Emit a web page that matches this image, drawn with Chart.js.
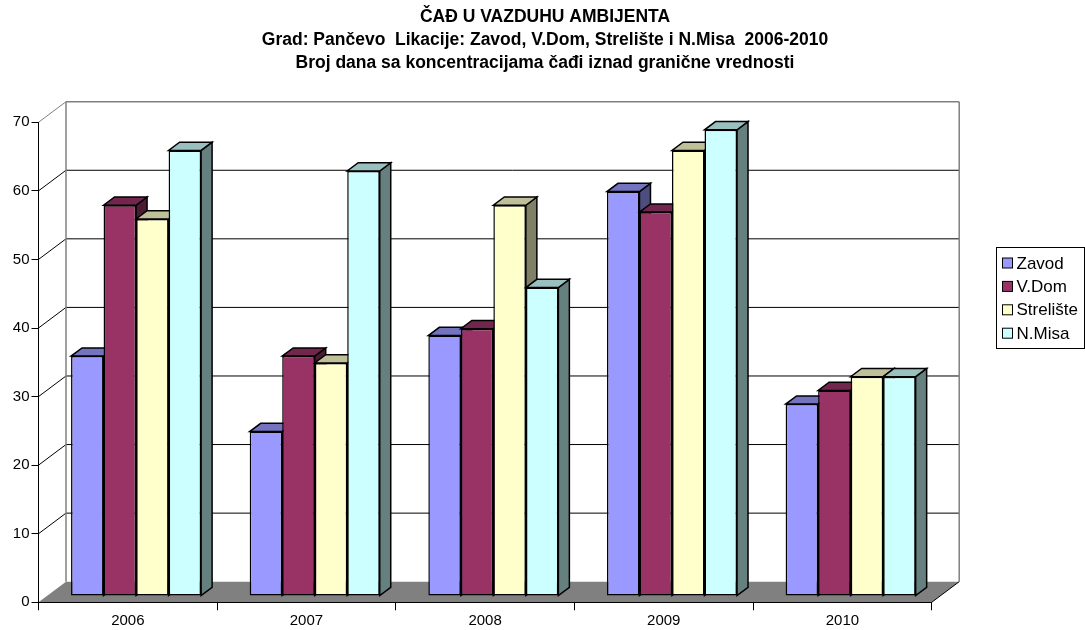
<!DOCTYPE html>
<html>
<head>
<meta charset="utf-8">
<script src="https://cdn.jsdelivr.net/npm/chart.js@4.4.1/dist/chart.umd.min.js"></script>
<style>
  html, body { margin: 0; padding: 0; background: #ffffff; }
  #wrap { width: 1085px; height: 630px; }
</style>
</head>
<body>
<div id="wrap"><canvas id="c" width="1085" height="630"></canvas></div>
<script>
// Chart text and values
const titleLines = [
  'ČAĐ U VAZDUHU AMBIJENTA',
  'Grad: Pančevo  Likacije: Zavod, V.Dom, Strelište i N.Misa  2006-2010',
  'Broj dana sa koncentracijama čađi iznad granične vrednosti'
];
const years = ['2006', '2007', '2008', '2009', '2010'];
const seriesNames = ['Zavod', 'V.Dom', 'Strelište', 'N.Misa'];
const zavod = [35, 24, 38, 59, 28];
const vDom = [57, 35, 39, 56, 30];
const streliste = [55, 34, 57, 65, 32];
const nMisa = [65, 62, 45, 68, 32];
const yTicks = [0, 10, 20, 30, 40, 50, 60, 70];

// Face colours: front, lit top, shaded side
const frontColors = ['#9999FF', '#993366', '#FFFFCC', '#CCFFFF'];
const topColors = ['#7373BF', '#73264D', '#BFBF99', '#99BFBF'];
const sideColors = ['#4D4D80', '#4D1A33', '#808066', '#668080'];

// Oblique projection of the depth axis
const DEPTH_DX = 27.5, DEPTH_DY = -20.6;
const BAR_FRONT = 0.30, BAR_BACK = 0.70;

const FONT = '"Liberation Sans", Arial, Helvetica, sans-serif';

function poly(ctx, pts, fill, stroke, lw) {
  ctx.beginPath();
  ctx.moveTo(pts[0][0], pts[0][1]);
  for (let k = 1; k < pts.length; k++) ctx.lineTo(pts[k][0], pts[k][1]);
  ctx.closePath();
  if (fill) { ctx.fillStyle = fill; ctx.fill(); }
  if (stroke) { ctx.strokeStyle = stroke; ctx.lineWidth = lw || 1; ctx.stroke(); }
}
function line(ctx, x1, y1, x2, y2, color, lw) {
  ctx.beginPath();
  ctx.moveTo(x1, y1);
  ctx.lineTo(x2, y2);
  ctx.strokeStyle = color;
  ctx.lineWidth = lw || 1;
  ctx.stroke();
}

// Walls and floor behind the bars
const roomPlugin = {
  id: 'room',
  beforeDraw(chart) {
    const ctx = chart.ctx;
    const a = chart.chartArea;
    const ys = chart.scales.y;
    ctx.save();
    ctx.fillStyle = '#ffffff';
    ctx.fillRect(0, 0, chart.width, chart.height);

    const bl = a.left + DEPTH_DX, br = a.right + DEPTH_DX;
    const bt = a.top + DEPTH_DY, bb = a.bottom + DEPTH_DY;

    // floor
    poly(ctx, [[a.left, a.bottom], [a.right, a.bottom], [br, bb], [bl, bb]], '#808080');

    // gridlines on the back wall and along the left wall
    ys.ticks.forEach(t => {
      const yf = ys.getPixelForValue(t.value);
      const yb = yf + DEPTH_DY;
      if (t.value > 0 && t.value < 70) {
        line(ctx, bl, yb, br, yb, '#000000', 1);
      }
      if (t.value > 0) {
        line(ctx, a.left, yf, bl, yb, t.value === 70 ? '#808080' : '#000000', 1);
      }
    });

    // wall outline
    line(ctx, bl, bt, br, bt, '#808080', 1.5);
    line(ctx, bl, bt, bl, bb, '#808080', 1.5);
    line(ctx, br, bt, br, bb, '#808080', 1.5);
    line(ctx, a.right, a.bottom, br, bb, '#000000', 1);
    ctx.restore();
  },

  // bars drawn category by category, left to right, so neighbours overlap correctly
  beforeDatasetsDraw(chart) {
    const ctx = chart.ctx;
    const ox = DEPTH_DX * BAR_FRONT, oy = DEPTH_DY * BAR_FRONT;
    const bdx = DEPTH_DX * (BAR_BACK - BAR_FRONT), bdy = DEPTH_DY * (BAR_BACK - BAR_FRONT);
    const metas = chart.data.datasets.map((d, j) => chart.getDatasetMeta(j));
    const n = chart.data.labels.length;
    ctx.save();
    ctx.lineJoin = 'miter';
    for (let i = 0; i < n; i++) {
      metas.forEach((meta, j) => {
        const el = meta.data[i];
        const p = el.getProps(['x', 'y', 'base', 'width'], true);
        const L = p.x - p.width / 2 + ox, R = p.x + p.width / 2 + ox;
        const T = p.y + oy, B = p.base + oy;
        poly(ctx, [[R, T], [R + bdx, T + bdy], [R + bdx, B + bdy], [R, B]], sideColors[j], '#000000', 1.5);
        poly(ctx, [[L, T], [R, T], [R + bdx, T + bdy], [L + bdx, T + bdy]], topColors[j], '#000000', 1.5);
        ctx.save();
        ctx.translate(ox, oy);
        el.draw(ctx);
        ctx.restore();
      });
    }
    ctx.restore();
    return false;
  },

  afterDraw(chart) {
    const ctx = chart.ctx;
    ctx.save();
    // title
    ctx.fillStyle = '#000000';
    ctx.textAlign = 'center';
    ctx.textBaseline = 'middle';
    ctx.font = 'bold 17.5px ' + FONT;
    const titleY = [17, 40, 63];
    titleLines.forEach((s, k) => ctx.fillText(s, 545, titleY[k]));

    // legend
    const lx = 996.5, ly = 247.5, lw = 88, lh = 101;
    ctx.fillStyle = '#ffffff';
    ctx.fillRect(lx, ly, lw, lh);
    ctx.strokeStyle = '#000000';
    ctx.lineWidth = 1;
    ctx.strokeRect(lx, ly, lw, lh);
    ctx.font = '17px ' + FONT;
    ctx.textAlign = 'left';
    chart.data.datasets.forEach((d, j) => {
      const cy = 263.5 + j * 23.4;
      ctx.fillStyle = d.backgroundColor;
      ctx.fillRect(1002.5, cy - 5.5, 10, 10);
      ctx.strokeRect(1002.5, cy - 5.5, 10, 10);
      ctx.fillStyle = '#000000';
      ctx.fillText(d.label, 1016.5, cy + 0.5);
    });
    ctx.restore();
  }
};

const seriesData = [zavod, vDom, streliste, nMisa];

new Chart(document.getElementById('c'), {
  type: 'bar',
  data: {
    labels: years,
    datasets: seriesNames.map((name, j) => ({
      label: name,
      data: seriesData[j],
      backgroundColor: frontColors[j],
      borderColor: '#000000',
      borderWidth: 1.5,
      borderSkipped: false,
      barPercentage: 1,
      categoryPercentage: 0.728
    }))
  },
  options: {
    responsive: false,
    animation: false,
    devicePixelRatio: 1,
    layout: { padding: { top: 122.3, right: 153.3, left: 0, bottom: 0 } },
    plugins: {
      legend: { display: false },
      title: { display: false },
      tooltip: { enabled: false }
    },
    scales: {
      x: {
        type: 'category',
        offset: true,
        grid: { offset: true, drawOnChartArea: false, drawTicks: true, tickLength: 8, color: '#000000', lineWidth: 1 },
        border: { display: true, color: '#000000', width: 1 },
        ticks: { color: '#000000', font: { family: FONT, size: 15 }, padding: 2, maxRotation: 0 },
        afterFit(s) { s.height = 27.7; }
      },
      y: {
        min: 0,
        max: 70,
        afterBuildTicks(s) { s.ticks = yTicks.map(v => ({ value: v })); },
        grid: { drawOnChartArea: false, drawTicks: true, tickLength: 7, color: '#000000', lineWidth: 1 },
        border: { display: true, color: '#000000', width: 1 },
        ticks: { color: '#000000', font: { family: FONT, size: 15 }, padding: 2 },
        afterFit(s) { s.width = 38.5; }
      }
    }
  },
  plugins: [roomPlugin]
});
</script>
</body>
</html>
